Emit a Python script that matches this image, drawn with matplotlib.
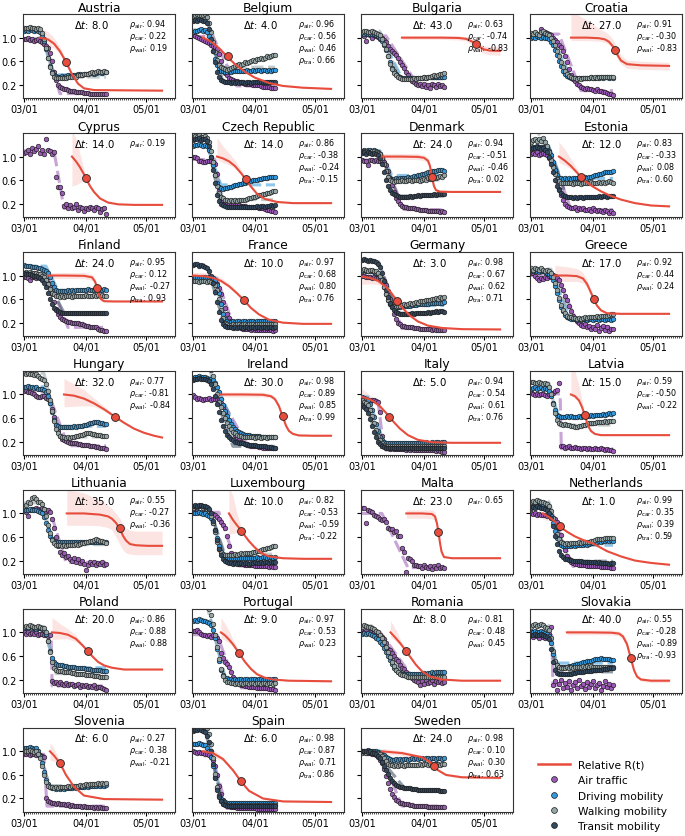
import numpy as np
import matplotlib
matplotlib.use("Agg")
import matplotlib.pyplot as plt
from matplotlib.lines import Line2D
from matplotlib.ticker import FixedLocator, MultipleLocator

# ---------------- data (percent of baseline, daily from 03/01) ----------------
names = ["Austria", "Belgium", "Bulgaria", "Croatia", "Cyprus", "Czech Republic", "Denmark",
         "Estonia", "Finland", "France", "Germany", "Greece", "Hungary", "Ireland", "Italy",
         "Latvia", "Lithuania", "Luxembourg", "Malta", "Netherlands", "Poland", "Portugal",
         "Romania", "Slovakia", "Slovenia", "Spain", "Sweden"]
prefixes = ["aut", "bel", "bgr", "hrv", "cyp", "cze", "dnk", "est", "fin", "fra", "deu", "grc",
            "hun", "irl", "ita", "lva", "ltu", "lux", "mlt", "nld", "pol", "prt", "rou", "svk",
            "svn", "esp", "swe"]
xtick_days = [0, 31, 61]
xtick_labels = ["03/01", "04/01", "05/01"]
ytick_vals = [0.2, 0.6, 1.0]

# Austria
aut_dt = 8.0
aut_rho = [0.94, 0.22, 0.19]
aut_air = [98,97,99,96,97,95,96,97,95,93,90,86,82,74,60,42,28,20,16,14,13,12,11,10,10,9,8,8,7,7,6,6,6,5,5,5,5,5,4,5,4,4]
aut_car = [112,113,112,114,113,112,113,112,110,105,95,80,65,52,42,37,35,34,34,35,34,35,36,35,36,37,37,38,38,37,38,39,39,40,40,39,40,41,41,40,41,41]
aut_walk = [116,117,116,118,117,116,115,116,114,108,97,82,66,50,40,34,32,31,31,32,31,32,33,33,34,35,34,36,37,36,38,39,38,40,41,40,42,43,42,42,43,42]
aut_fits = [[98, 5, 10, 18], [113, 37, 8, 15], [117, 33, 8, 15]]
aut_r_days = [8, 12, 15, 18, 21, 24, 27, 30, 35, 69]
aut_r_vals = [1.0, 0.97, 0.9, 0.77, 0.59, 0.38, 0.22, 0.14, 0.11, 0.10]
aut_r_lo = [0.86, 0.86, 0.82, 0.72, 0.56, 0.36, 0.21, 0.13, 0.10, 0.09]
aut_r_hi = [1.16, 1.10, 1.0, 0.84, 0.63, 0.40, 0.23, 0.15, 0.12, 0.11]
aut_dot = [21, 0.59]

# Belgium
bel_dt = 4.0
bel_rho = [0.96, 0.56, 0.46, 0.66]
bel_air = [104,103,101,99,98,96,95,93,91,88,86,84,80,72,60,48,40,36,32,30,28,27,26,25,24,23,22,22,21,21,20,20,19,19,18,17,17,16,16,15,15,14]
bel_car = [110,112,111,113,114,112,113,110,103,92,78,64,53,47,44,43,42,42,43,42,43,44,43,44,44,43,44,45,44,44,45,44,45,45,44,45,45,44,45,44,45,45]
bel_walk = [136,138,140,139,137,138,140,135,125,110,92,75,62,54,50,48,46,45,47,48,50,52,53,55,54,56,58,57,59,60,62,61,63,64,65,64,66,68,67,69,70,70]
bel_transit = [128,130,129,131,130,128,129,125,115,98,78,58,42,33,28,26,25,24,24,23,24,23,24,23,24,24,23,24,24,23,24,25,24,24,25,24,25,25,24,25,25,24]
bel_fits = [[102, 18, 10, 22], [113, 44, 7, 14], [148, 50, 6, 15], [132, 24, 7, 15]]
bel_r_days = [5, 8, 11, 14, 17, 21, 26, 31, 38, 45, 55, 69]
bel_r_vals = [1.0, 0.95, 0.88, 0.79, 0.68, 0.55, 0.42, 0.32, 0.23, 0.18, 0.15, 0.13]
bel_r_lo = [0.9, 0.88, 0.84, 0.76, 0.66, 0.54, 0.41, 0.31, 0.22, 0.17, 0.14, 0.12]
bel_r_hi = [1.1, 1.03, 0.93, 0.82, 0.70, 0.56, 0.43, 0.33, 0.24, 0.19, 0.16, 0.14]
bel_dot = [17.3, 0.68]

# Bulgaria
bgr_dt = 43.0
bgr_rho = [0.63, -0.74, -0.83]
bgr_air = [105,103,95,106,104,100,104,102,101,98,100,96,92,86,80,78,74,70,66,58,54,48,42,36,32,27,24,22,20,21,18,22,17,20,15,21,19,16,22,18,20,16]
bgr_car = [106,107,108,107,106,107,106,105,103,100,95,88,79,68,58,49,43,38,35,33,32,31,31,31,31,32,31,32,31,32,32,33,32,33,33,33,34,33,34,33,34,34]
bgr_walk = [110,112,111,110,109,111,110,108,107,104,98,90,80,68,56,46,40,36,33,31,30,29,29,30,29,30,31,30,31,32,31,33,32,34,33,35,36,35,37,38,39,40]
bgr_fits = [[103, 19, 12, 28], [107, 31, 9, 20], [111, 30, 9, 19]]
bgr_r_days = [20, 30, 40, 48, 52, 54, 57, 59, 61, 64, 69]
bgr_r_vals = [1.0, 1.0, 1.0, 0.995, 0.98, 0.95, 0.9, 0.84, 0.80, 0.78, 0.775]
bgr_r_lo = [0.97, 0.97, 0.97, 0.96, 0.94, 0.90, 0.84, 0.77, 0.73, 0.71, 0.70]
bgr_r_hi = [1.03, 1.03, 1.03, 1.03, 1.02, 1.0, 0.96, 0.90, 0.86, 0.85, 0.85]
bgr_dot = [56.8, 0.9]

# Croatia
hrv_dt = 27.0
hrv_rho = [0.91, -0.30, -0.83]
hrv_air = [105,102,108,104,106,115,103,110,108,106,104,100,96,92,88,84,78,68,58,46,36,30,26,22,19,16,15,13,14,12,13,11,10,12,9,10,8,7,6,5,4,3]
hrv_car = [100,101,100,102,101,100,101,100,99,97,93,87,79,70,60,51,44,38,35,33,32,31,31,31,32,31,32,32,32,32,33,32,32,33,32,33,32,33,33,32,33,32]
hrv_walk = [108,106,110,107,105,109,112,108,106,104,100,95,88,78,68,58,50,43,38,35,33,32,31,30,31,30,31,32,31,32,33,32,33,32,33,34,33,34,33,34,34,33]
hrv_fits = [[106, 10, 14, 25], [101, 32, 10, 20], [107, 32, 10, 20]]
hrv_r_days = [20, 28, 34, 37, 39, 41, 42, 43, 45, 48, 55, 69]
hrv_r_vals = [1.0, 1.0, 0.99, 0.97, 0.93, 0.85, 0.79, 0.72, 0.61, 0.55, 0.53, 0.52]
hrv_r_lo = [0.95, 0.95, 0.94, 0.92, 0.88, 0.79, 0.72, 0.65, 0.55, 0.48, 0.46, 0.45]
hrv_r_hi = [1.45, 1.30, 1.15, 1.10, 1.05, 0.97, 0.90, 0.82, 0.70, 0.62, 0.60, 0.58]
hrv_dot = [42, 0.79]

# Cyprus
cyp_dt = 14.0
cyp_rho = [0.19]
cyp_air = [106,108,112,104,115,109,113,118,106,111,105,130,112,110,104,107,66,49,48,38,16,20,13,18,13,15,20,10,14,12,8,13,11,15,12,9,14,12,6,11,13,3]
cyp_fits = [[110, 12, 15, 20]]
cyp_r_days = [24, 26, 28, 30, 31, 33, 35, 38, 42, 47, 55, 69]
cyp_r_vals = [1.0, 0.92, 0.82, 0.7, 0.63, 0.5, 0.4, 0.29, 0.22, 0.19, 0.18, 0.18]
cyp_r_lo = [0.5, 0.52, 0.56, 0.6, 0.6, 0.48, 0.38, 0.28, 0.21, 0.18, 0.17, 0.17]
cyp_r_hi = [1.45, 1.3, 1.05, 0.78, 0.66, 0.52, 0.42, 0.30, 0.23, 0.20, 0.19, 0.19]
cyp_dot = [31, 0.63]

# Czech Republic
cze_dt = 14.0
cze_rho = [0.86, -0.38, -0.24, -0.15]
cze_air = [100,100,98,93,92,91,90,92,93,92,90,88,70,45,28,25,22,20,19,18,18,17,17,17,16,16,16,15,15,15,14,14,14,13,13,12,11,10,9,8,7,6]
cze_car = [118,120,119,121,120,118,120,118,112,100,85,68,55,48,46,45,46,47,48,49,50,51,52,53,54,55,56,57,58,59,60,60,61,62,62,63,64,64,65,65,66,66]
cze_walk = [134,135,133,136,134,133,135,132,125,110,90,68,50,38,32,29,27,26,25,26,25,26,25,26,27,26,27,28,29,30,31,32,33,34,35,36,37,38,39,40,41,41]
cze_transit = [128,130,129,131,128,129,130,126,118,100,78,55,35,24,19,17,16,15,15,14,15,14,15,14,15,15,14,15,15,14,15,15,16,15,16,16,15,16,16,17,16,17]
cze_fits = [[95, 15, 11, 15], [119, 52, 7, 14], [135, 27, 7, 15], [130, 15, 7, 14]]
cze_r_days = [12, 15, 18, 21, 24, 26.3, 29, 32, 36, 42, 50, 69]
cze_r_vals = [1.0, 0.97, 0.92, 0.84, 0.72, 0.62, 0.49, 0.37, 0.28, 0.23, 0.21, 0.21]
cze_r_lo = [0.95, 0.9, 0.86, 0.8, 0.7, 0.6, 0.48, 0.36, 0.27, 0.22, 0.2, 0.2]
cze_r_hi = [1.32, 1.18, 1.06, 0.94, 0.78, 0.65, 0.51, 0.38, 0.29, 0.24, 0.22, 0.22]
cze_dot = [26.3, 0.62]

# Denmark
dnk_dt = 24.0
dnk_rho = [0.94, -0.51, -0.46, 0.02]
dnk_air = [94,92,93,86,94,95,93,94,92,93,92,90,85,76,64,52,40,30,24,19,16,15,14,13,13,12,12,11,11,10,10,9,9,8,8,8,7,7,7,6,7,6]
dnk_car = [110,111,110,112,111,110,112,110,108,105,98,87,75,66,62,61,62,63,62,63,64,63,64,65,64,66,67,66,68,69,70,71,72,73,74,75,76,76,77,78,77,76]
dnk_walk = [108,110,109,107,108,110,109,107,106,104,98,88,76,66,60,58,57,58,59,58,60,59,58,60,61,59,60,61,60,59,61,62,61,63,62,64,65,64,66,67,66,68]
dnk_transit = [106,107,105,107,106,105,106,104,102,98,88,74,60,50,43,39,36,34,33,32,32,31,32,32,33,32,33,33,34,33,34,34,35,34,35,35,36,35,36,36,37,37]
dnk_fits = [[94, 10, 11, 21], [110, 68, 9, 15], [108, 60, 9, 15], [106, 33, 9, 18]]
dnk_r_days = [10, 20, 28, 31, 33, 34, 35, 36, 37, 39, 45, 69]
dnk_r_vals = [1.0, 1.0, 0.995, 0.98, 0.93, 0.84, 0.645, 0.5, 0.43, 0.405, 0.40, 0.40]
dnk_r_lo = [0.95, 0.95, 0.95, 0.93, 0.88, 0.78, 0.6, 0.47, 0.41, 0.39, 0.39, 0.39]
dnk_r_hi = [1.05, 1.05, 1.05, 1.03, 0.98, 0.9, 0.69, 0.53, 0.45, 0.42, 0.41, 0.41]
dnk_dot = [35, 0.645]

# Estonia
est_dt = 12.0
est_rho = [0.83, -0.33, 0.08, 0.60]
est_air = [104,106,105,107,103,105,106,104,102,98,92,84,72,58,45,34,26,20,16,14,13,12,14,10,12,11,13,9,10,11,8,12,9,7,10,8,6,9,7,5,8,5]
est_car = [115,117,116,118,117,116,117,116,114,110,102,90,78,68,64,63,62,63,62,63,62,63,64,63,64,63,64,65,64,65,66,67,68,69,70,71,72,73,74,73,74,75]
est_walk = [125,128,130,126,129,127,131,124,118,108,95,82,70,62,58,56,55,56,55,56,55,54,55,56,55,54,55,56,55,56,57,56,55,56,57,56,57,56,57,58,57,56]
est_transit = [113,115,114,116,115,113,114,112,108,100,88,74,60,50,43,38,35,33,32,31,31,30,31,30,31,31,30,31,32,31,32,31,32,32,33,32,33,33,32,33,33,33]
est_fits = [[105, 10, 10, 20], [117, 63, 9, 15], [145, 56, 3, 16], [115, 31, 9, 18]]
est_r_days = [14, 17, 20, 23, 25.2, 28, 31, 35, 40, 45, 52, 60, 69]
est_r_vals = [1.0, 0.93, 0.84, 0.73, 0.645, 0.56, 0.49, 0.41, 0.33, 0.27, 0.21, 0.17, 0.155]
est_r_lo = [0.9, 0.85, 0.79, 0.7, 0.63, 0.55, 0.48, 0.40, 0.32, 0.26, 0.2, 0.16, 0.145]
est_r_hi = [1.25, 1.12, 0.96, 0.8, 0.67, 0.57, 0.50, 0.42, 0.34, 0.28, 0.22, 0.18, 0.165]
est_dot = [25.2, 0.645]

# Finland
fin_dt = 24.0
fin_rho = [0.95, 0.12, -0.27, 0.93]
fin_air = [97,98,96,93,98,97,96,97,95,96,94,92,88,80,68,55,44,35,30,26,24,22,21,21,20,20,19,19,18,17,16,15,14,13,13,12,12,10,8,7,6,5]
fin_car = [118,117,116,117,115,114,115,113,112,111,110,108,104,97,88,80,76,74,73,74,73,74,75,74,75,74,75,76,75,76,75,76,77,76,75,76,77,76,75,76,77,75]
fin_walk = [105,106,104,106,105,104,105,103,102,100,97,92,85,77,71,68,66,65,64,65,64,65,66,65,64,65,66,65,66,65,66,67,66,65,66,67,66,67,66,67,66,65]
fin_transit = [104,103,102,103,101,100,99,98,96,93,88,80,70,60,51,45,41,39,38,37,37,36,37,36,37,36,37,37,36,37,37,36,37,37,36,37,37,36,37,37,36,37]
fin_fits = [[97, 12, 12, 22], [116, 75, 11, 17], [105, 65, 10, 17], [103, 37, 10, 20]]
fin_r_days = [12, 20, 30, 34, 35.5, 36.6, 37.5, 38.5, 40, 45, 69]
fin_r_vals = [1.0, 1.0, 0.995, 0.97, 0.9, 0.79, 0.68, 0.6, 0.565, 0.56, 0.56]
fin_r_lo = [0.95, 0.95, 0.95, 0.92, 0.85, 0.75, 0.64, 0.57, 0.55, 0.55, 0.55]
fin_r_hi = [1.05, 1.05, 1.05, 1.02, 0.95, 0.83, 0.72, 0.63, 0.58, 0.57, 0.57]
fin_dot = [36.6, 0.79]

# France
fra_dt = 10.0
fra_rho = [0.97, 0.68, 0.80, 0.76]
fra_air = [95,94,95,96,94,95,93,94,92,93,90,88,85,78,68,55,45,35,28,22,19,16,14,12,11,10,10,9,9,8,9,8,8,7,8,7,7,8,7,7,6,7]
fra_car = [97,98,97,96,97,98,97,96,97,96,95,92,84,70,52,35,26,22,21,21,22,21,22,22,21,22,22,21,22,22,22,21,22,22,22,22,23,22,22,23,22,22]
fra_walk = [90,91,90,89,90,91,90,89,90,89,88,84,75,60,42,28,20,17,16,16,17,16,17,17,16,17,17,16,17,17,17,16,17,17,17,17,18,17,17,18,17,17]
fra_transit = [118,120,119,117,118,116,115,113,108,100,88,72,55,38,25,18,14,13,12,12,11,12,11,12,12,11,12,12,11,12,12,11,12,12,11,12,12,11,12,12,11,12]
fra_fits = [[95, 8, 12, 21], [97, 22, 11, 17], [90, 17, 11, 17], [118, 12, 7, 16]]
fra_r_days = [0, 5, 10, 14, 18, 22, 25.5, 29, 33, 38, 45, 55, 69]
fra_r_vals = [1.0, 0.99, 0.96, 0.91, 0.82, 0.70, 0.58, 0.45, 0.34, 0.25, 0.2, 0.18, 0.18]
fra_r_lo = [0.97, 0.96, 0.93, 0.88, 0.8, 0.68, 0.57, 0.44, 0.33, 0.24, 0.19, 0.17, 0.17]
fra_r_hi = [1.05, 1.05, 1.03, 0.97, 0.87, 0.73, 0.60, 0.46, 0.35, 0.26, 0.21, 0.19, 0.19]
fra_dot = [25.5, 0.58]

# Germany
deu_dt = 3.0
deu_rho = [0.98, 0.67, 0.62, 0.71]
deu_air = [100,99,98,97,98,96,97,95,96,95,94,90,84,74,60,46,34,26,20,17,15,14,13,13,12,12,11,11,11,10,10,10,9,9,9,8,9,8,8,8,7,8]
deu_car = [108,109,108,107,108,107,106,105,103,99,91,80,68,58,51,48,46,46,47,47,48,48,48,49,49,50,50,50,51,51,51,52,52,52,53,53,53,54,54,54,54,55]
deu_walk = [110,111,109,108,110,109,108,107,105,100,92,80,68,58,52,49,48,47,48,49,50,51,50,52,53,52,54,55,54,56,57,56,58,59,58,60,61,62,61,63,62,64]
deu_transit = [126,128,127,125,126,124,125,123,120,114,104,90,76,63,53,46,41,38,36,35,34,35,34,35,35,36,35,36,36,37,36,37,37,38,37,38,38,39,38,39,39,38]
deu_fits = [[97, 10, 11, 20], [108, 49, 8, 16], [109, 52, 8, 16], [126, 36, 8, 18]]
deu_r_days = [0, 4, 8, 12, 15, 17.6, 20, 24, 28, 33, 40, 50, 69]
deu_r_vals = [0.98, 0.96, 0.91, 0.81, 0.69, 0.57, 0.46, 0.32, 0.22, 0.15, 0.11, 0.09, 0.085]
deu_r_lo = [0.85, 0.86, 0.85, 0.78, 0.67, 0.56, 0.45, 0.31, 0.21, 0.14, 0.1, 0.08, 0.075]
deu_r_hi = [1.1, 1.04, 0.96, 0.84, 0.71, 0.59, 0.47, 0.33, 0.23, 0.16, 0.12, 0.10, 0.095]
deu_dot = [17.6, 0.57]

# Greece
grc_dt = 17.0
grc_rho = [0.92, 0.44, 0.24]
grc_air = [105,104,100,95,93,96,94,97,95,100,98,101,99,96,92,84,76,66,58,48,40,32,26,22,19,16,14,18,12,15,10,13,9,16,6,11,14,8,12,5,10,9]
grc_car = [108,107,109,108,106,108,107,106,105,103,99,92,82,70,58,47,39,33,30,28,27,26,26,25,26,25,26,26,25,26,26,25,26,26,25,26,26,25,26,26,25,26]
grc_walk = [112,110,113,111,109,112,110,108,109,107,104,98,88,75,62,50,42,36,32,30,29,28,28,27,28,27,28,29,28,29,30,29,30,31,30,31,32,31,32,33,35,34]
grc_fits = [[100, 13, 13, 24], [107, 26, 10, 20], [111, 29, 10, 20]]
grc_r_days = [12, 18, 23, 26, 28, 30, 31.3, 33, 35, 38, 45, 69]
grc_r_vals = [1.0, 1.0, 0.99, 0.95, 0.86, 0.71, 0.61, 0.49, 0.41, 0.36, 0.35, 0.35]
grc_r_lo = [0.9, 0.9, 0.9, 0.87, 0.8, 0.66, 0.58, 0.47, 0.39, 0.34, 0.34, 0.34]
grc_r_hi = [1.17, 1.15, 1.12, 1.05, 0.93, 0.76, 0.64, 0.51, 0.43, 0.37, 0.36, 0.36]
grc_dot = [31.3, 0.61]

# Hungary
hun_dt = 32.0
hun_rho = [0.77, -0.81, -0.84]
hun_air = [106,107,104,105,102,100,98,96,95,98,97,94,92,85,75,62,48,38,30,25,22,21,20,18,18,17,17,16,16,15,15,14,14,13,12,12,11,11,10,9,9,8]
hun_car = [113,112,114,113,112,111,112,110,110,109,108,105,97,85,70,57,49,46,45,45,44,45,44,45,45,46,45,46,46,47,48,49,50,51,52,53,54,53,52,51,50,50]
hun_walk = [136,135,137,134,135,133,134,131,128,126,124,118,106,90,72,55,42,34,30,28,27,26,27,26,27,28,29,30,31,32,33,34,35,34,33,33,32,31,31,30,30,30]
hun_fits = [[104, 13, 12, 22], [113, 46, 10, 17], [136, 28, 10, 18]]
hun_r_days = [20, 25, 30, 35, 40, 45.6, 50, 55, 60, 65, 69]
hun_r_vals = [1.0, 0.98, 0.93, 0.85, 0.75, 0.62, 0.52, 0.42, 0.35, 0.3, 0.27]
hun_r_lo = [0.79, 0.8, 0.81, 0.8, 0.72, 0.6, 0.51, 0.41, 0.34, 0.29, 0.26]
hun_r_hi = [1.27, 1.18, 1.08, 0.94, 0.8, 0.64, 0.53, 0.43, 0.36, 0.31, 0.28]
hun_dot = [45.6, 0.62]

# Ireland
irl_dt = 30.0
irl_rho = [0.98, 0.89, 0.85, 0.99]
irl_air = [99,95,92,94,93,90,93,92,94,91,93,92,93,90,86,78,70,60,52,44,38,32,27,23,20,18,16,15,14,13,13,12,12,11,11,10,10,10,9,10,9,9]
irl_car = [128,130,129,131,130,129,130,128,127,126,124,120,113,104,93,82,72,63,56,50,45,41,38,36,34,33,32,31,31,30,30,29,29,29,28,28,28,28,28,28,28,28]
irl_walk = [150,152,151,153,152,150,151,149,147,142,132,118,100,88,78,68,60,52,46,41,37,34,32,30,29,28,28,27,27,27,27,26,27,27,26,27,27,26,27,27,27,27]
irl_transit = [125,127,126,128,127,126,127,125,123,118,110,98,84,70,57,46,38,32,27,24,22,20,19,18,17,17,16,16,15,15,14,14,13,13,12,12,12,11,11,11,10,10]
irl_fits = [[93, 10, 14, 28], [130, 28, 10, 23], [155, 27, 7, 20], [127, 12, 8, 20]]
irl_r_days = [13.5, 25, 35, 39, 41, 43, 44.8, 46.5, 48, 50, 53, 60, 69]
irl_r_vals = [1.0, 1.0, 0.995, 0.97, 0.92, 0.8, 0.63, 0.47, 0.38, 0.33, 0.305, 0.3, 0.3]
irl_r_lo = [0.96, 0.96, 0.96, 0.94, 0.89, 0.77, 0.61, 0.45, 0.37, 0.32, 0.29, 0.29, 0.29]
irl_r_hi = [1.04, 1.04, 1.04, 1.01, 0.96, 0.84, 0.66, 0.5, 0.4, 0.34, 0.32, 0.31, 0.31]
irl_dot = [44.8, 0.63]

# Italy
ita_dt = 5.0
ita_rho = [0.94, 0.54, 0.61, 0.76]
ita_air = [92,91,90,91,89,90,90,89,88,70,30,12,10,9,8,9,8,7,8,7,8,7,6,7,6,7,6,6,5,6,5,6,5,5,6,5,5,4,5,4,3,2]
ita_car = [95,94,93,90,84,74,62,50,38,28,22,19,18,17,17,17,18,17,17,18,17,18,18,17,18,18,18,17,18,18,18,18,19,18,18,19,18,19,19,18,19,19]
ita_walk = [90,88,86,82,74,64,52,40,30,22,17,14,13,12,12,13,12,12,13,12,12,13,12,12,13,12,13,13,12,13,13,12,13,13,13,12,13,13,12,13,13,12]
ita_transit = [82,78,75,68,58,46,36,27,20,16,13,11,10,10,9,10,9,10,9,9,10,9,9,10,9,9,10,9,9,10,9,10,9,9,10,10,9,10,10,9,10,10]
ita_fits = [[91, 6, 8, 11], [96, 18, 3, 11], [92, 12, 2, 10], [85, 10, 2, 9]]
ita_r_days = [0, 3, 6, 9, 12, 13.7, 16, 19, 23, 28, 35, 45, 69]
ita_r_vals = [0.96, 0.93, 0.88, 0.8, 0.69, 0.62, 0.53, 0.42, 0.31, 0.23, 0.19, 0.18, 0.18]
ita_r_lo = [0.88, 0.87, 0.84, 0.77, 0.67, 0.6, 0.52, 0.41, 0.3, 0.22, 0.18, 0.17, 0.17]
ita_r_hi = [1.1, 1.02, 0.94, 0.84, 0.71, 0.64, 0.54, 0.43, 0.32, 0.24, 0.2, 0.19, 0.19]
ita_dot = [13.7, 0.62]

# Latvia
lva_dt = 15.0
lva_rho = [0.59, -0.50, -0.22]
lva_air = [105,101,99,100,99,101,100,99,98,100,102,103,106,108,119,12,13,10,11,12,9,10,11,9,10,8,9,10,8,9,7,8,9,7,8,10,7,6,8,5,6,4]
lva_car = [110,111,112,110,111,112,110,111,109,106,97,85,73,66,63,62,62,62,63,62,63,62,61,62,63,62,63,64,63,64,65,64,65,66,65,66,67,66,67,68,67,68]
lva_walk = [121,122,120,119,121,120,118,119,117,112,100,84,68,57,52,50,49,50,49,48,47,46,45,45,46,47,48,49,50,51,51,52,52,53,53,54,54,55,54,55,55,55]
lva_fits = [[101, 8, 14.6, 15.2], [111, 63, 9, 14], [120, 48, 9, 14]]
lva_r_days = [20, 22, 24, 25.5, 26.9, 28, 29, 30, 32, 35, 45, 69]
lva_r_vals = [1.0, 0.97, 0.9, 0.79, 0.65, 0.53, 0.44, 0.38, 0.33, 0.31, 0.31, 0.31]
lva_r_lo = [0.98, 0.94, 0.87, 0.76, 0.63, 0.51, 0.43, 0.37, 0.32, 0.30, 0.30, 0.30]
lva_r_hi = [1.5, 1.4, 1.15, 0.9, 0.68, 0.55, 0.45, 0.39, 0.34, 0.32, 0.32, 0.32]
lva_dot = [26.9, 0.65]

# Lithuania
ltu_dt = 35.0
ltu_rho = [0.55, -0.27, -0.36]
ltu_air = [105,103,95,106,108,107,109,108,105,110,107,104,106,103,90,75,60,45,35,30,32,26,28,22,20,24,18,22,16,20,15,4,12,18,14,17,12,16,15,18,13,15]
ltu_car = [106,105,106,107,106,105,106,104,103,100,94,84,72,62,56,53,52,52,51,52,51,52,52,51,52,52,51,52,52,51,52,52,51,52,52,51,52,52,51,52,51,51]
ltu_walk = [112,114,120,118,126,128,124,120,119,116,108,95,80,66,55,49,47,46,46,45,46,45,46,47,46,47,48,47,48,49,50,51,52,53,54,55,56,55,54,53,52,50]
ltu_fits = [[106, 17, 13, 21], [106, 52, 9, 15], [118, 47, 9, 15]]
ltu_r_days = [21.4, 30, 38, 42, 44, 46, 47.8, 49.5, 51, 53, 56, 62, 69]
ltu_r_vals = [1.0, 1.0, 0.98, 0.95, 0.91, 0.84, 0.75, 0.62, 0.54, 0.48, 0.46, 0.45, 0.45]
ltu_r_lo = [0.8, 0.8, 0.79, 0.76, 0.72, 0.6, 0.48, 0.38, 0.33, 0.31, 0.3, 0.3, 0.3]
ltu_r_hi = [1.4, 1.35, 1.22, 1.14, 1.08, 1.0, 0.92, 0.82, 0.75, 0.71, 0.7, 0.7, 0.7]
ltu_dot = [47.8, 0.75]

# Luxembourg
lux_dt = 10.0
lux_rho = [0.82, -0.53, -0.59, -0.22]
lux_air = [105,103,104,102,101,103,100,99,101,98,99,97,94,90,85,80,75,62,45,32,22,18,16,15,14,14,13,13,12,12,12,11,11,11,10,10,10,10,9,10,9,9]
lux_car = [100,101,100,102,101,99,100,98,96,92,84,72,58,45,35,30,27,26,25,25,24,25,24,25,25,24,25,25,24,25,25,25,26,25,25,26,26,25,26,26,25,26]
lux_walk = [110,112,111,113,112,110,111,108,104,96,84,68,52,40,34,31,30,29,30,29,30,31,30,31,32,31,32,33,32,33,34,35,36,37,38,39,40,41,42,43,44,45]
lux_transit = [112,114,113,115,114,112,113,111,108,100,88,72,55,40,29,22,19,17,16,16,15,16,15,16,16,15,16,16,15,16,16,17,16,16,17,16,17,17,16,17,17,17]
lux_fits = [[102, 11, 13, 22], [100, 25, 8, 16], [111, 31, 8, 16], [113, 16, 8, 17]]
lux_r_days = [18, 20, 22, 24.2, 26, 28, 31, 34, 38, 45, 55, 69]
lux_r_vals = [1.0, 0.89, 0.8, 0.71, 0.62, 0.53, 0.42, 0.33, 0.27, 0.24, 0.23, 0.23]
lux_r_lo = [0.65, 0.66, 0.68, 0.68, 0.6, 0.52, 0.41, 0.32, 0.26, 0.23, 0.22, 0.22]
lux_r_hi = [1.45, 1.3, 1.0, 0.76, 0.64, 0.54, 0.43, 0.34, 0.28, 0.25, 0.24, 0.24]
lux_dot = [24.2, 0.71]

# Malta
mlt_dt = 23.0
mlt_rho = [0.65]
mlt_air = [110,110,83,106,104,102,97,96,94,91,89,90,86,75,74,73,69,70,62,61,41,35,0,25,22,20,13,12,10,11,8,12,9,7,10,6,11,8,12,7,9,7]
mlt_fits = [[100, 8, 10, 23]]
mlt_r_days = [22.2, 30, 35, 36.5, 37.5, 38.2, 39, 39.8, 41, 45, 69]
mlt_r_vals = [1.0, 1.0, 0.99, 0.95, 0.83, 0.69, 0.5, 0.35, 0.26, 0.24, 0.24]
mlt_r_lo = [0.92, 0.92, 0.91, 0.88, 0.78, 0.65, 0.47, 0.33, 0.25, 0.23, 0.23]
mlt_r_hi = [1.06, 1.06, 1.06, 1.03, 0.9, 0.74, 0.54, 0.38, 0.28, 0.25, 0.25]
mlt_dot = [38.2, 0.69]

# Netherlands
nld_dt = 1.0
nld_rho = [0.99, 0.35, 0.39, 0.59]
nld_air = [100,99,101,98,99,97,98,97,96,97,95,93,90,85,76,64,50,38,28,22,18,16,15,14,13,13,12,12,11,11,11,10,10,10,10,9,9,9,9,9,8,8]
nld_car = [112,113,112,114,113,111,112,110,108,104,96,84,70,58,50,46,45,44,45,44,45,46,45,46,47,46,47,48,47,48,49,50,51,52,53,52,53,54,55,54,55,54]
nld_walk = [120,121,119,122,121,119,120,118,116,112,104,92,78,65,56,51,49,48,49,48,49,50,49,50,51,50,51,52,51,52,53,54,55,56,57,56,57,58,59,58,59,58]
nld_transit = [110,111,110,112,111,109,110,108,106,101,92,78,62,48,37,30,26,23,22,21,21,20,20,19,19,19,18,18,18,17,17,17,17,16,17,16,16,16,16,15,16,16]
nld_fits = [[98, 10, 11, 21], [112, 46, 9, 16], [120, 50, 9, 16], [110, 19, 9, 19]]
nld_r_days = [6, 9, 12, 14.3, 18, 22, 26, 31, 38, 45, 52, 60, 69]
nld_r_vals = [1.0, 0.94, 0.86, 0.78, 0.69, 0.61, 0.55, 0.49, 0.36, 0.27, 0.2, 0.16, 0.13]
nld_r_lo = [0.9, 0.88, 0.83, 0.76, 0.68, 0.6, 0.54, 0.48, 0.35, 0.26, 0.19, 0.15, 0.12]
nld_r_hi = [1.05, 1.0, 0.9, 0.8, 0.7, 0.62, 0.56, 0.5, 0.37, 0.28, 0.21, 0.17, 0.14]
nld_dot = [14.3, 0.78]

# Poland
pol_dt = 20.0
pol_rho = [0.86, 0.88, 0.88]
pol_air = [100,98,101,97,99,98,100,96,98,97,95,96,94,95,17,14,16,12,15,13,11,14,10,12,13,9,11,12,8,10,9,11,7,9,8,10,6,8,7,5,4,3]
pol_car = [107,108,107,109,108,107,106,108,107,105,104,98,85,69,56,49,46,45,44,44,43,43,42,42,41,41,40,40,40,39,39,38,38,38,37,37,36,36,36,35,35,35]
pol_walk = [110,111,110,112,111,110,109,111,110,108,107,100,85,66,50,40,36,35,34,34,33,33,32,32,31,31,30,30,30,29,29,28,28,27,27,26,26,26,25,25,25,24]
pol_fits = [[97, 9, 13.6, 14.1], [107, 40, 10, 16], [110, 30, 10, 16]]
pol_r_days = [14, 18, 22, 26, 29, 31.8, 34, 37, 40, 44, 50, 69]
pol_r_vals = [1.0, 0.99, 0.96, 0.89, 0.79, 0.69, 0.6, 0.5, 0.44, 0.4, 0.37, 0.37]
pol_r_lo = [0.88, 0.89, 0.89, 0.84, 0.76, 0.67, 0.58, 0.49, 0.43, 0.39, 0.36, 0.36]
pol_r_hi = [1.25, 1.15, 1.06, 0.95, 0.82, 0.71, 0.62, 0.51, 0.45, 0.41, 0.38, 0.38]
pol_dot = [31.8, 0.69]

# Portugal
prt_dt = 9.0
prt_rho = [0.97, 0.53, 0.23]
prt_air = [103,102,104,100,98,95,96,94,95,93,96,92,90,85,65,56,50,46,42,33,25,18,14,12,11,10,9,9,8,8,7,7,6,6,6,5,5,5,4,4,4,3]
prt_car = [120,121,120,122,121,119,120,118,116,112,104,90,72,52,36,27,23,22,21,21,20,21,20,21,21,20,21,21,20,21,21,21,20,21,21,20,21,21,21,20,21,21]
prt_walk = [155,156,154,157,155,153,150,146,140,130,115,95,75,55,38,26,19,16,15,14,14,13,14,13,14,13,14,14,13,14,14,13,14,14,13,14,14,13,14,14,13,14]
prt_fits = [[96, 6, 12, 22], [121, 21, 9, 16], [158, 14, 6, 17]]
prt_r_days = [14, 16, 18, 20, 23, 26, 29, 32, 36, 40, 48, 69]
prt_r_vals = [1.0, 0.95, 0.88, 0.8, 0.65, 0.5, 0.38, 0.29, 0.23, 0.2, 0.18, 0.17]
prt_r_lo = [0.9, 0.87, 0.82, 0.76, 0.63, 0.49, 0.37, 0.28, 0.22, 0.19, 0.17, 0.16]
prt_r_hi = [1.25, 1.15, 1.03, 0.88, 0.68, 0.52, 0.39, 0.3, 0.24, 0.21, 0.19, 0.18]
prt_dot = [23, 0.65]

# Romania
rou_dt = 8.0
rou_rho = [0.81, 0.48, 0.45]
rou_air = [102,100,103,99,101,98,100,99,97,95,92,88,82,72,70,65,60,55,52,45,40,38,32,25,28,22,20,17,15,10,17,13,19,14,16,20,12,17,15,18,14,16]
rou_car = [98,99,98,99,97,96,94,91,88,84,80,74,67,60,53,46,40,36,33,31,30,30,29,29,30,29,30,30,29,30,30,31,30,31,31,32,31,32,32,33,32,33]
rou_walk = [110,112,111,109,110,108,106,103,100,95,90,83,75,67,58,50,43,37,33,30,28,27,26,25,25,24,25,24,25,24,25,25,24,25,24,25,25,24,25,24,25,25]
rou_fits = [[101, 16, 9, 27], [99, 30, 6, 20], [111, 25, 5, 21]]
rou_r_days = [14.3, 17, 19.5, 21.9, 24, 27, 30, 34, 40, 50, 69]
rou_r_vals = [1.0, 0.9, 0.8, 0.69, 0.59, 0.45, 0.34, 0.25, 0.2, 0.18, 0.18]
rou_r_lo = [0.92, 0.85, 0.77, 0.67, 0.58, 0.44, 0.33, 0.24, 0.19, 0.17, 0.17]
rou_r_hi = [1.2, 1.04, 0.86, 0.72, 0.61, 0.46, 0.35, 0.26, 0.21, 0.19, 0.19]
rou_dot = [21.9, 0.69]

# Slovakia
svk_dt = 40.0
svk_rho = [0.55, -0.28, -0.89, -0.93]
svk_air = [95,92,97,94,90,96,93,91,95,97,110,10,18,3,12,20,5,14,8,17,2,11,15,6,19,9,13,4,16,7,12,18,5,10,14,3,9,17,8,12,6,10]
svk_car = [100,101,102,100,101,103,100,99,98,94,82,64,50,44,42,41,41,42,42,43,43,44,45,46,47,48,49,50,51,52,52,53,54,55,55,56,55,54,55,54,53,53]
svk_walk = [110,112,114,111,113,115,112,110,108,104,90,68,52,44,41,40,39,40,41,40,41,40,41,42,41,42,43,42,43,42,43,42,42,41,42,41,42,41,42,41,42,41]
svk_transit = [95,96,97,95,96,98,95,94,93,88,72,50,36,31,30,29,29,30,29,30,30,31,31,32,32,33,33,34,34,35,35,36,36,37,37,37,38,38,38,39,39,39]
svk_fits = [[95, 10, 10.5, 11], [101, 48, 9, 13], [112, 41, 9, 13], [96, 33, 9, 13]]
svk_r_days = [18, 30, 40, 44, 46, 48, 49.9, 51.5, 53, 55, 60, 69]
svk_r_vals = [1.0, 1.0, 0.995, 0.98, 0.93, 0.8, 0.56, 0.36, 0.25, 0.2, 0.18, 0.18]
svk_r_lo = [0.96, 0.96, 0.96, 0.94, 0.88, 0.74, 0.5, 0.32, 0.22, 0.17, 0.15, 0.15]
svk_r_hi = [1.04, 1.04, 1.04, 1.02, 0.98, 0.86, 0.62, 0.4, 0.28, 0.23, 0.21, 0.21]
svk_dot = [49.9, 0.56]

# Slovenia
svn_dt = 6.0
svn_rho = [0.27, 0.38, -0.21]
svn_air = [96,95,97,94,96,95,93,95,94,92,90,20,15,14,12,13,11,12,10,11,10,9,10,8,9,8,7,8,7,6,7,6,5,6,5,4,5,4,5,3,4,3]
svn_car = [105,106,105,107,106,104,105,100,92,80,65,52,44,40,38,37,36,37,36,37,36,37,38,37,38,39,38,39,40,39,40,41,40,41,42,41,42,43,42,43,42,43]
svn_walk = [100,101,100,102,101,99,100,96,88,75,60,48,42,40,39,38,39,38,39,40,39,40,41,40,41,42,41,42,43,42,43,44,43,44,45,44,45,46,45,46,45,46]
svn_fits = [[95, 7, 10, 11.5], [106, 39, 7, 13], [101, 42, 7, 13]]
svn_r_days = [13, 15, 18, 21, 25, 30, 40, 69]
svn_r_vals = [1.0, 0.93, 0.8, 0.6, 0.4, 0.25, 0.19, 0.18]
svn_r_lo = [0.85, 0.83, 0.76, 0.58, 0.39, 0.24, 0.18, 0.17]
svn_r_hi = [1.15, 1.05, 0.84, 0.62, 0.41, 0.26, 0.2, 0.19]
svn_dot = [18, 0.8]

# Spain
esp_dt = 6.0
esp_rho = [0.98, 0.87, 0.71, 0.86]
esp_air = [100,99,98,99,97,98,96,95,93,90,85,75,60,42,28,18,12,9,7,6,5,5,4,4,4,3,3,3,3,3,3,3,2,2,2,2,2,2,2,2,2,2]
esp_car = [112,113,112,114,113,111,110,106,100,90,75,56,38,26,19,16,14,13,13,13,12,13,13,12,13,13,12,13,13,13,12,13,13,13,12,13,13,13,13,12,13,13]
esp_walk = [150,152,151,153,150,148,146,140,130,112,88,62,40,25,16,12,10,9,9,8,9,8,9,9,8,9,9,8,9,9,9,8,9,9,9,8,9,9,9,9,8,9]
esp_transit = [135,137,136,138,136,134,132,126,116,100,78,55,35,22,15,11,9,8,8,8,7,8,8,7,8,8,7,8,8,8,7,8,8,8,7,8,8,8,8,7,8,8]
esp_fits = [[99, 3, 9, 17], [113, 13, 8, 15], [155, 9, 6, 15], [138, 8, 6, 15]]
esp_r_days = [5, 10, 15, 20, 24, 28, 35, 45, 69]
esp_r_vals = [1.0, 0.97, 0.87, 0.68, 0.49, 0.33, 0.2, 0.15, 0.14]
esp_r_lo = [0.9, 0.9, 0.84, 0.66, 0.48, 0.32, 0.19, 0.14, 0.13]
esp_r_hi = [1.1, 1.04, 0.9, 0.7, 0.5, 0.34, 0.21, 0.16, 0.15]
esp_dot = [24, 0.49]

# Sweden
swe_dt = 24.0
swe_rho = [0.98, 0.10, 0.30, 0.63]
swe_air = [100,99,98,97,98,96,95,93,90,86,80,70,58,46,36,28,22,18,15,13,12,11,10,10,9,9,8,8,8,7,7,7,7,6,6,6,6,6,5,5,5,5]
swe_car = [100,101,100,102,101,100,101,100,99,98,96,93,90,88,87,86,86,87,86,87,86,87,87,86,87,88,87,88,87,88,88,87,88,88,87,88,88,87,88,88,87,88]
swe_walk = [98,99,98,100,99,98,99,98,97,95,92,88,83,79,77,76,75,76,75,76,76,75,76,77,76,77,77,76,77,78,77,78,78,77,78,78,77,78,78,77,78,78]
swe_transit = [100,101,100,99,100,98,97,95,92,88,82,75,68,61,55,50,46,43,41,40,39,38,38,37,37,36,36,36,35,35,35,35,34,34,34,34,34,34,34,33,33,33]
swe_fits = [[99, 7, 9, 20], [101, 87, 9, 14], [99, 77, 9, 15], [100, 35, 6, 22]]
swe_r_days = [10, 20, 30, 34, 36, 38, 42, 50, 69]
swe_r_vals = [1.0, 0.97, 0.9, 0.82, 0.75, 0.68, 0.6, 0.56, 0.55]
swe_r_lo = [0.95, 0.93, 0.87, 0.8, 0.73, 0.66, 0.58, 0.54, 0.53]
swe_r_hi = [1.05, 1.01, 0.93, 0.84, 0.77, 0.7, 0.62, 0.58, 0.57]
swe_dot = [36, 0.75]

# ---------------- styling ----------------
series_keys = ["air", "car", "walk", "transit"]
series_labels = ["Air traffic", "Driving mobility", "Walking mobility", "Transit mobility"]
rho_labels = ["air", "car", "wal", "tra"]
colors = {"air": "#9b59b6", "car": "#3498db", "walk": "#95a5a6", "transit": "#34495e"}
red = "#e74c3c"

plt.rcParams["font.family"] = ["DejaVu Sans"]
fig, axes = plt.subplots(7, 4, figsize=(6.85, 8.37), dpi=100)
fig.subplots_adjust(left=0.034, right=0.996, top=0.982, bottom=0.029, wspace=0.112, hspace=0.417)

G = globals()
for i, (name, p) in enumerate(zip(names, prefixes)):
    ax = axes[i // 4, i % 4]
    present = [k for k in series_keys if f"{p}_{k}" in G]
    fits = G[f"{p}_fits"]
    for k, fit in zip(present, fits):
        pre, post, t0, t1 = fit
        ax.plot([0, t0, t1, 41], [pre / 100, pre / 100, post / 100, post / 100],
                ls="--", lw=2.2, color=colors[k], alpha=0.55, zorder=1, dashes=(4, 1.5))
    for k in present:
        vals = np.array(G[f"{p}_{k}"]) / 100.0
        ax.scatter(np.arange(len(vals)), vals, s=11, color=colors[k], edgecolors="#1b1b1b",
                   linewidths=0.45, zorder=2)
    rd = G[f"{p}_r_days"]
    ax.fill_between(rd, G[f"{p}_r_lo"], G[f"{p}_r_hi"], color=red, alpha=0.15, lw=0, zorder=0.5)
    ax.plot(rd, G[f"{p}_r_vals"], color=red, lw=1.5, zorder=3)
    dd, dv = G[f"{p}_dot"]
    ax.scatter([dd], [dv], s=32, color=red, edgecolors="#222222", linewidths=0.6, zorder=4)

    ax.set_title(name, fontsize=8.8, pad=2.5)
    ax.text(0.335, 0.885, r"$\Delta t$: " + f"{G[p + '_dt']:.1f}", transform=ax.transAxes,
            fontsize=7.3, va="center", ha="left")
    for j, r in enumerate(G[f"{p}_rho"]):
        ax.text(0.695, 0.885 - 0.143 * j, r"$\rho_{\rm " + rho_labels[j] + "}$: " + f"{r:.2f}",
                transform=ax.transAxes, fontsize=5.8, va="center", ha="left")

    ax.set_xlim(-0.3, 75.6)
    ax.set_ylim(-0.025, 1.4)
    ax.xaxis.set_major_locator(FixedLocator(xtick_days))
    ax.set_xticklabels(xtick_labels)
    ax.xaxis.set_minor_locator(MultipleLocator(1))
    ax.set_yticks(ytick_vals)
    if i % 4 == 0:
        ax.set_yticklabels([f"{v:.1f}" for v in ytick_vals])
    else:
        ax.set_yticklabels([])
    ax.tick_params(axis="both", which="major", labelsize=7, length=3, width=0.8, pad=1.5)
    ax.tick_params(axis="x", which="minor", length=1.6, width=0.5)
    for s in ax.spines.values():
        s.set_linewidth(0.8)
        s.set_color("#333333")

# legend cell
lax = axes[6, 3]
lax.axis("off")
handles = [Line2D([0], [0], color=red, lw=1.8)]
for k in series_keys:
    handles.append(Line2D([0], [0], ls="none", marker="o", markersize=4.2, markerfacecolor=colors[k],
                          markeredgecolor="#1b1b1b", markeredgewidth=0.5))
fig.legend(handles, ["Relative R(t)"] + series_labels, loc="upper left",
           bbox_to_anchor=(0.786, 0.091), frameon=False, fontsize=7.7,
           handlelength=3.0, labelspacing=0.5, handletextpad=0.7, borderaxespad=0,
           borderpad=0)

fig.savefig("out.png", dpi=100)
